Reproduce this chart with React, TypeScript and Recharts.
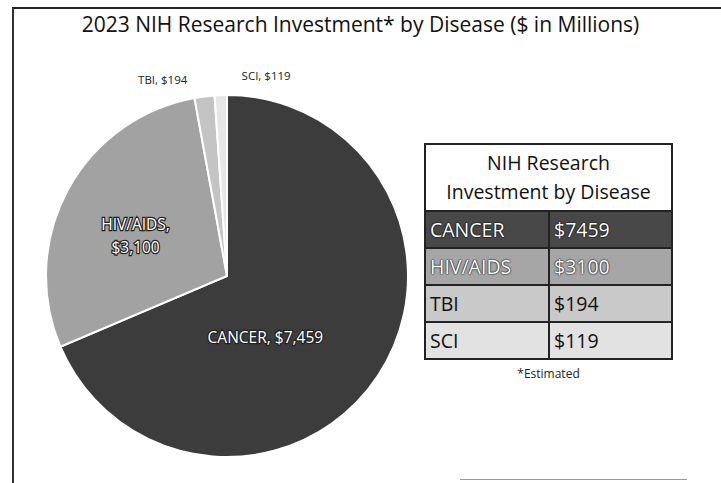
import React from 'react';
import { PieChart, Pie, Cell } from 'recharts';

const categories = ['CANCER', 'HIV/AIDS', 'TBI', 'SCI'];
const values = [7459, 3100, 194, 119];
const title = '2023 NIH Research Investment* by Disease ($ in Millions)';
const tableTitle = ['NIH Research', 'Investment by Disease'];
const footnote = '*Estimated';

const sliceColors = ['#3c3c3c', '#a2a2a2', '#c4c4c4', '#e6e6e6'];
const rowColors = ['#484848', '#a6a6a6', '#c9c9c9', '#e2e2e2'];
const rowText = ['#ffffff', '#ffffff', '#111111', '#111111'];
// label placement: fraction of radius and angle shift (deg) from slice mid-angle
const labelRadius = [0.4, 0.55, 1.14, 1.13];
const labelShift = [-24.5, 5, 11, -13];
const labelInside = [true, true, false, false];

const data = categories.map((name, i) => ({ name, value: values[i] }));
const fmt = (v: number) => '$' + v.toLocaleString('en-US');
const FONT = '"Open Sans", Lato, sans-serif';

const RADIAN = Math.PI / 180;

function renderLabel(props: any) {
  const { cx, cy, midAngle, outerRadius, index, name, value } = props;
  const a = (midAngle + labelShift[index]) * RADIAN;
  const r = outerRadius * labelRadius[index];
  const x = cx + r * Math.cos(a);
  const y = cy - r * Math.sin(a);
  const inside = labelInside[index];
  const common = inside
    ? { fill: '#ffffff', stroke: '#222', strokeWidth: 2.4, paintOrder: 'stroke' as any, fontSize: 15.5 }
    : { fill: '#222', fontSize: 11.5 };
  if (name === 'HIV/AIDS') {
    return (
      <text x={x} y={y} textAnchor="middle" fontFamily={FONT} {...common}>
        <tspan x={x} dy={-7}>{name + ','}</tspan>
        <tspan x={x} dy={23}>{fmt(value)}</tspan>
      </text>
    );
  }
  return (
    <text x={x} y={y} textAnchor="middle" dominantBaseline="central" fontFamily={FONT} {...common}>
      {name + ', ' + fmt(value)}
    </text>
  );
}

export default function App() {
  return (
    <div style={{ position: 'absolute', left: 0, top: 0, width: 721, height: 483, background: '#fff', overflow: 'hidden' }}>
      <div style={{ position: 'absolute', left: 12, top: 7, width: 720, height: 490, borderTop: '2px solid #222', borderLeft: '2px solid #333' }} />
      <div style={{ position: 'absolute', left: 460, top: 479, width: 227, height: 0, borderTop: '1px solid #999' }} />
      <div style={{ position: 'absolute', left: 0, top: 10, width: 721, textAlign: 'center', fontFamily: FONT, fontSize: 21, color: '#111' }}>
        {title}
      </div>
      <div style={{ position: 'absolute', left: 0, top: 0 }}>
        <PieChart width={721} height={483}>
          <Pie
            data={data}
            dataKey="value"
            nameKey="name"
            cx={222}
            cy={271}
            outerRadius={181}
            startAngle={90}
            endAngle={-270}
            stroke="#ffffff"
            strokeWidth={2}
            label={renderLabel}
            labelLine={false}
            isAnimationActive={false}
          >
            {data.map((d, i) => (
              <Cell key={d.name} fill={sliceColors[i]} />
            ))}
          </Pie>
        </PieChart>
      </div>
      <div style={{ position: 'absolute', left: 424, top: 143, width: 249, fontFamily: FONT }}>
        <div style={{ border: '2px solid #222', borderBottom: 'none', textAlign: 'center', fontSize: 19.5, lineHeight: '29px', padding: '3px 0 4px', color: '#111', whiteSpace: 'nowrap' }}>
          {tableTitle.map((t) => (
            <div key={t}>{t}</div>
          ))}
        </div>
        <table style={{ width: '100%', borderCollapse: 'collapse', fontSize: 19.5, fontFamily: FONT }}>
          <tbody>
            {data.map((d, i) => (
              <tr key={d.name} style={{ background: rowColors[i], height: 37 }}>
                {[d.name, '$' + d.value].map((txt, j) => (
                  <td
                    key={j}
                    style={{
                      border: '2px solid #222',
                      padding: '0 0 0 4px',
                      width: j === 0 ? 118 : 'auto',
                      color: rowText[i],
                      lineHeight: '31px',
                      textShadow: i < 2 ? '0 0 2px #000, 0 0 1px #000' : 'none',
                    }}
                  >
                    {txt}
                  </td>
                ))}
              </tr>
            ))}
          </tbody>
        </table>
        <div style={{ textAlign: 'center', fontSize: 12, marginTop: 5, color: '#222' }}>{footnote}</div>
      </div>
    </div>
  );
}
